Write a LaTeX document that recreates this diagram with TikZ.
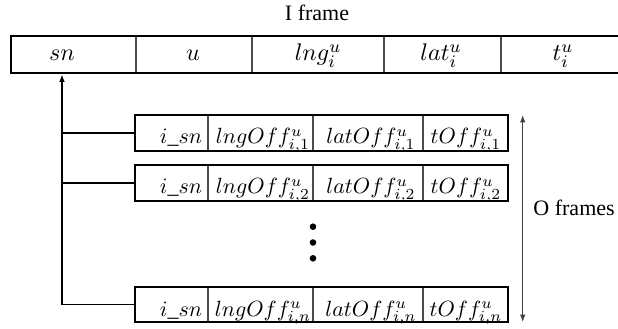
\documentclass[tikz,border=0pt]{standalone}
\usepackage{fontspec}
\setmainfont{Liberation Serif}
\usetikzlibrary{arrows.meta}
\tikzset{
  frm/.style={draw, line width=1.3pt, inner sep=0pt, minimum height={37*0.4545pt}},
  div/.style={line width=0.6pt, draw=black!70},
  conn/.style={line width=0.6pt},
  lab/.style={inner sep=0pt, anchor=base, font=\fontsize{10.95}{13}\selectfont},
  olab/.style={inner sep=0pt, anchor=base, font=\fontsize{10}{12}\selectfont},
  tip/.style={-{Latex[length=3.4pt,width=2.6pt]}},
  dot/.style={circle, fill, inner sep=0pt, minimum size={6.6*0.4545pt}}
}
\begin{document}
\begin{tikzpicture}[x=0.4545pt,y=-0.4545pt]
\useasboundingbox (0,0) rectangle (618,329);
% title
\node[inner sep=0pt] (ititle) at (317,13) {I frame};
% I frame dividers
\foreach \x in {136,252,384,501} \draw[div] (\x,36) -- (\x,73);
\node[frm, minimum width={608*0.4545pt}] (I) at (315,54.5) {};
\node[lab] (sn)  at (62,61)  {$sn$};
\node[lab] (u)   at (193,61) {$u$};
\node[lab] (lng) at (318,61) {$lng_i^u$};
\node[lab] (lat) at (441,61) {$lat_i^u$};
\node[lab] (t)   at (563,61) {$t_i^u$};
% O frames dividers
\foreach \y/\h in {115/151,165/201,287/322}
  \foreach \x in {208,313,423} \draw[div] (\x,\y) -- (\x,\h);
\node[frm, minimum width={373*0.4545pt}, minimum height={36*0.4545pt}] (F1) at (321.5,133) {};
\node[frm, minimum width={373*0.4545pt}, minimum height={36*0.4545pt}] (F2) at (321.5,183) {};
\node[frm, minimum width={373*0.4545pt}, minimum height={35*0.4545pt}] (Fn) at (321.5,304.5) {};
\foreach \n/\s/\b in {F1/1/144,F2/2/194,Fn/n/316}{
  \node[olab] (\n-a) at (181,\b) {$i\_sn$};
  \node[olab] (\n-b) at (263,\b) {$lngOff_{i,\s}^u$};
  \node[olab] (\n-c) at (371,\b) {$latOff_{i,\s}^u$};
  \node[olab] (\n-d) at (466,\b) {$tOff_{i,\s}^u$};
}
% dots
\node[dot] (d1) at (313,226.7) {};
\node[dot] (d2) at (313,242.5) {};
\node[dot] (d3) at (313,258.3) {};
% connectors
\coordinate (isnb) at (I.south -| sn);
\draw[conn,tip] (Fn.west) -| (isnb);
\draw[conn] (F1.west) -- (F1.west -| isnb);
\draw[conn] (F2.west) -- (F2.west -| isnb);
% O frames range arrow
\coordinate (otop) at (522.7,115);
\coordinate (obot) at (522.7,322);
\draw[conn,draw=black!75,{Latex[length=3.4pt,width=2.6pt]}-{Latex[length=3.4pt,width=2.6pt]}] (otop) -- (obot);
\node[inner sep=0pt, anchor=west] (olab) at (533,208) {O frames};
\end{tikzpicture}
\end{document}
